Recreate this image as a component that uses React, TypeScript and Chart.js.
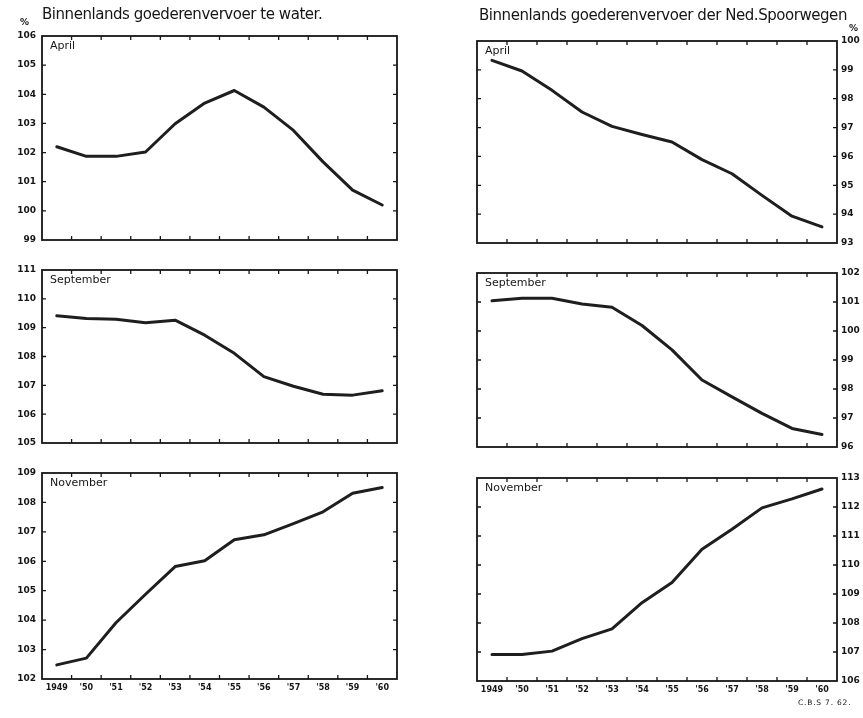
import React, { useEffect, useRef } from "react";
import { Chart, registerables } from "chart.js";
Chart.register(...registerables);

// ---- data ----
const years = ["1949", "'50", "'51", "'52", "'53", "'54", "'55", "'56", "'57", "'58", "'59", "'60"];
const months = ["April", "September", "November"];

const waterApril = [102.2, 101.87, 101.87, 102.02, 102.99, 103.7, 104.13, 103.56, 102.76, 101.68, 100.71, 100.2];
const waterSeptember = [109.41, 109.32, 109.29, 109.17, 109.26, 108.74, 108.11, 107.3, 106.97, 106.69, 106.66, 106.81];
const waterNovember = [102.48, 102.71, 103.91, 104.88, 105.82, 106.02, 106.73, 106.9, 107.28, 107.68, 108.31, 108.51];

const railApril = [99.33, 98.96, 98.29, 97.54, 97.04, 96.76, 96.5, 95.89, 95.4, 94.65, 93.93, 93.56];
const railSeptember = [101.04, 101.13, 101.13, 100.93, 100.82, 100.19, 99.35, 98.31, 97.73, 97.16, 96.64, 96.43];
const railNovember = [106.91, 106.91, 107.03, 107.46, 107.8, 108.7, 109.4, 110.54, 111.23, 111.97, 112.28, 112.62];

const waterMin = [99, 105, 102];
const waterMax = [106, 111, 109];
const railMin = [93, 96, 106];
const railMax = [100, 102, 113];

const titleWater = "Binnenlands goederenvervoer te water.";
const titleRail = "Binnenlands goederenvervoer der Ned.Spoorwegen";
const unitLabel = "%";
const footer = "C.B.S 7. 62.";

// ---- layout ----
const W = 863;
const H = 718;
const Y_AXIS_W = 30;
const INK = "#161616";

const leftAreas = [
  { l: 42, r: 397, t: 36, b: 240 },
  { l: 42, r: 397, t: 270, b: 443 },
  { l: 42, r: 397, t: 473, b: 679 },
];
const rightAreas = [
  { l: 477, r: 837, t: 41, b: 243 },
  { l: 477, r: 837, t: 273, b: 447 },
  { l: 477, r: 837, t: 478, b: 681 },
];

const framePlugin = {
  id: "frame",
  afterDraw(chart: any, _args: any, opts: any) {
    const { ctx, chartArea } = chart;
    const { left, top, right, bottom } = chartArea;
    const xs = chart.scales.x;
    const ys = chart.scales.y;
    ctx.save();
    ctx.strokeStyle = INK;
    ctx.lineWidth = 1.8;
    ctx.strokeRect(left, top, right - left, bottom - top);
    ctx.lineWidth = 1.3;
    const n = chart.data.labels.length;
    const tl = 4;
    ctx.beginPath();
    for (let i = 1; i < n; i++) {
      const px = (xs.getPixelForValue(i - 1) + xs.getPixelForValue(i)) / 2;
      ctx.moveTo(px, bottom);
      ctx.lineTo(px, bottom - tl);
      ctx.moveTo(px, top);
      ctx.lineTo(px, top + tl);
    }
    for (let v = ys.min + 1; v < ys.max; v++) {
      const py = ys.getPixelForValue(v);
      ctx.moveTo(left, py);
      ctx.lineTo(left + tl, py);
      ctx.moveTo(right, py);
      ctx.lineTo(right - tl, py);
    }
    ctx.stroke();
    ctx.fillStyle = INK;
    ctx.font = "11px 'DejaVu Sans'";
    ctx.textBaseline = "top";
    ctx.textAlign = "left";
    ctx.fillText(opts.label, left + 8, top + 5);
    ctx.restore();
  },
};

type PanelProps = {
  values: number[];
  min: number;
  max: number;
  month: string;
  side: "left" | "right";
  area: { l: number; r: number; t: number; b: number };
  showX: boolean;
};

function Panel({ values, min, max, month, side, area, showX }: PanelProps) {
  const ref = useRef<HTMLCanvasElement | null>(null);
  useEffect(() => {
    if (!ref.current) return;
    const xH = showX ? 20 : 0;
    const padding =
      side === "left"
        ? { left: area.l - Y_AXIS_W, right: W - area.r, top: area.t, bottom: H - area.b - xH }
        : { left: area.l, right: W - area.r - Y_AXIS_W, top: area.t, bottom: H - area.b - xH };
    const chart = new Chart(ref.current, {
      type: "line",
      data: {
        labels: years,
        datasets: [
          {
            data: values,
            borderColor: "#1e1e1e",
            borderWidth: 3,
            pointRadius: 0,
            tension: 0,
            borderJoinStyle: "round",
            borderCapStyle: "round",
            fill: false,
          },
        ],
      },
      options: {
        animation: false,
        responsive: false,
        maintainAspectRatio: false,
        layout: { padding },
        events: [],
        plugins: {
          legend: { display: false },
          tooltip: { enabled: false },
          title: { display: false },
          frame: { label: month },
        } as any,
        scales: {
          x: {
            type: "category",
            offset: true,
            grid: { display: false, offset: true, drawTicks: false },
            border: { display: false },
            ticks: {
              display: showX,
              autoSkip: false,
              maxRotation: 0,
              padding: 4,
              color: INK,
              font: { family: "DejaVu Sans", size: 8, weight: "bold" },
            },
            afterFit: (s: any) => {
              s.height = xH;
              s.paddingLeft = 0;
              s.paddingRight = 0;
            },
          },
          y: {
            position: side,
            min,
            max,
            grid: { display: false, drawTicks: false },
            border: { display: false },
            ticks: {
              stepSize: 1,
              padding: side === "left" ? 6 : 4,
              color: INK,
              font: { family: "DejaVu Sans", size: 9, weight: "bold" },
              callback: (v: any) => String(v),
            },
            afterFit: (s: any) => {
              s.width = Y_AXIS_W;
              s.paddingTop = 0;
              s.paddingBottom = 0;
            },
          },
        },
      } as any,
      plugins: [framePlugin],
    });
    return () => chart.destroy();
  }, []);
  return (
    <canvas
      ref={ref}
      width={W}
      height={H}
      style={{ position: "absolute", left: 0, top: 0, width: W, height: H }}
    />
  );
}

export default function App() {
  const waterSeries = [waterApril, waterSeptember, waterNovember];
  const railSeries = [railApril, railSeptember, railNovember];
  return (
    <div
      style={{
        position: "absolute",
        left: 0,
        top: 0,
        width: W,
        height: H,
        background: "#fff",
        overflow: "hidden",
        fontFamily: "'DejaVu Sans', sans-serif",
        color: INK,
      }}
    >
      {waterSeries.map((vals, i) => (
        <Panel
          key={"w" + i}
          values={vals}
          min={waterMin[i]}
          max={waterMax[i]}
          month={months[i]}
          side="left"
          area={leftAreas[i]}
          showX={i === 2}
        />
      ))}
      {railSeries.map((vals, i) => (
        <Panel
          key={"r" + i}
          values={vals}
          min={railMin[i]}
          max={railMax[i]}
          month={months[i]}
          side="right"
          area={rightAreas[i]}
          showX={i === 2}
        />
      ))}
      <div style={{ position: "absolute", left: 42, top: 5, fontSize: 15, letterSpacing: -0.45, whiteSpace: "nowrap", lineHeight: "18px" }}>{titleWater}</div>
      <div style={{ position: "absolute", left: 20, top: 17, fontSize: 9, fontWeight: "bold", lineHeight: "11px" }}>{unitLabel}</div>
      <div style={{ position: "absolute", left: 479, top: 6, fontSize: 15, letterSpacing: -0.45, whiteSpace: "nowrap", lineHeight: "18px" }}>{titleRail}</div>
      <div style={{ position: "absolute", left: 849, top: 23, fontSize: 9, fontWeight: "bold", lineHeight: "11px" }}>{unitLabel}</div>
      <div style={{ position: "absolute", left: 798, top: 698, fontSize: 7.5, letterSpacing: 0.8, whiteSpace: "nowrap", lineHeight: "10px" }}>{footer}</div>
    </div>
  );
}
